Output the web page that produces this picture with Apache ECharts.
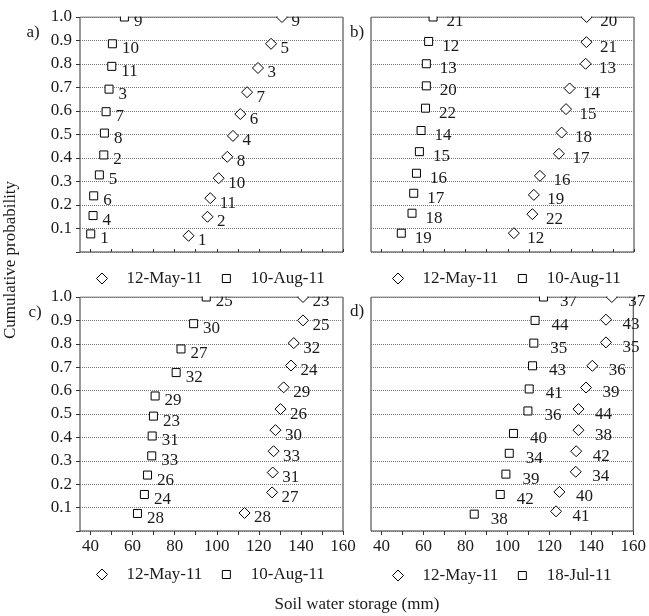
<!DOCTYPE html>
<html>
<head>
<meta charset="utf-8">
<script src="https://cdn.jsdelivr.net/npm/echarts@6/dist/echarts.min.js"></script>
<style>html,body{margin:0;padding:0;background:#fff}#c{width:649px;height:616px}</style>
</head>
<body>
<div id="c"></div>
<script>
// ---- data ----
const xTickValues = [40, 50, 60, 70, 80, 90, 100, 110, 120, 130, 140, 150, 160];
const xLabelValues = [40, 60, 80, 100, 120, 140, 160];

// panel a
const aMayId = [1, 2, 11, 10, 8, 4, 6, 7, 3, 5, 9];
const aMayX = [86.6, 95.6, 96.9, 100.9, 105.0, 107.7, 111.2, 114.4, 119.6, 125.8, 131.0];
const aMayP = [0.069, 0.15, 0.229, 0.314, 0.405, 0.494, 0.587, 0.68, 0.783, 0.886, 1.0];
const aAugId = [1, 4, 6, 5, 2, 8, 7, 3, 11, 10, 9];
const aAugX = [40.1, 41.2, 41.5, 44.2, 46.3, 46.6, 47.4, 48.8, 50.1, 50.4, 56.1];
const aAugP = [0.077, 0.155, 0.239, 0.328, 0.413, 0.506, 0.597, 0.693, 0.79, 0.886, 1.0];

// panel b
const bMayId = [12, 22, 19, 16, 17, 18, 15, 14, 13, 21, 20];
const bMayX = [102.9, 111.7, 112.4, 115.3, 124.3, 125.6, 127.7, 129.4, 137.0, 137.4, 137.5];
const bMayP = [0.08, 0.161, 0.243, 0.324, 0.418, 0.508, 0.608, 0.696, 0.801, 0.893, 1.0];
const bAugId = [19, 18, 17, 16, 15, 14, 22, 20, 13, 12, 21];
const bAugX = [49.4, 54.5, 55.3, 56.6, 58.0, 58.8, 60.9, 61.3, 61.3, 62.4, 64.5];
const bAugP = [0.08, 0.165, 0.25, 0.335, 0.427, 0.517, 0.612, 0.707, 0.801, 0.896, 1.0];

// panel c
const cMayId = [28, 27, 31, 33, 30, 26, 29, 24, 32, 25, 23];
const cMayX = [113.2, 126.3, 126.6, 127.0, 127.9, 130.3, 131.8, 135.3, 136.6, 141.0, 141.0];
const cMayP = [0.077, 0.165, 0.25, 0.341, 0.431, 0.521, 0.614, 0.707, 0.803, 0.9, 1.0];
const cAugId = [28, 24, 26, 33, 31, 23, 29, 32, 27, 30, 25];
const cAugX = [62.3, 65.6, 67.1, 69.1, 69.3, 69.9, 70.7, 80.7, 83.0, 89.0, 95.0];
const cAugP = [0.075, 0.156, 0.239, 0.321, 0.406, 0.491, 0.577, 0.677, 0.778, 0.886, 1.0];

// panel d
const dMayId = [41, 40, 34, 42, 38, 44, 39, 36, 35, 43, 37];
const dMayX = [123.2, 124.8, 132.6, 132.8, 133.9, 133.9, 137.5, 140.5, 147.0, 147.0, 149.8];
const dMayP = [0.084, 0.167, 0.253, 0.341, 0.431, 0.521, 0.613, 0.706, 0.806, 0.903, 1.0];
const dJulId = [38, 42, 39, 34, 40, 36, 41, 43, 35, 44, 37];
const dJulX = [84.2, 96.6, 99.3, 100.9, 102.9, 109.8, 110.4, 112.0, 112.6, 113.2, 117.2];
const dJulP = [0.072, 0.156, 0.243, 0.332, 0.417, 0.513, 0.607, 0.706, 0.803, 0.9, 1.0];

const seriesMay = '12-May-11';
const seriesAug = '10-Aug-11';
const seriesJul = '18-Jul-11';
const panelLetters = ['a)', 'b)', 'c)', 'd)'];
const xTitle = 'Soil water storage (mm)';
const yTitle = 'Cumulative probability';

// ---- styling / layout ----
const FONT = "'Liberation Serif', 'Times New Roman', serif";
const TXT = '#1a1a1a';
const FRAME = '#333';
const FS = 17;
const SQUARE_ICON = 'path://M0,0M11,11M1.5,1.5L9.5,1.5L9.5,9.5L1.5,9.5Z';

const grids = [
  {left: 80, top: 17, width: 263, height: 235},
  {left: 371, top: 17, width: 263, height: 235},
  {left: 80, top: 297, width: 263, height: 234},
  {left: 371, top: 297, width: 263, height: 234}
];
const labelDx = [9, 13, 9, 16];

const panels = [
  {may: [aMayX, aMayP, aMayId], other: [aAugX, aAugP, aAugId], otherName: seriesAug},
  {may: [bMayX, bMayP, bMayId], other: [bAugX, bAugP, bAugId], otherName: seriesAug},
  {may: [cMayX, cMayP, cMayId], other: [cAugX, cAugP, cAugId], otherName: seriesAug},
  {may: [dMayX, dMayP, dMayId], other: [dJulX, dJulP, dJulId], otherName: seriesJul}
];

function zip(arr) {
  return arr[0].map((v, i) => [v, arr[1][i], arr[2][i]]);
}

const option = {
  backgroundColor: '#fff',
  animation: false,
  grid: grids.map(g => Object.assign({show: true, borderColor: FRAME, borderWidth: 1, backgroundColor: 'transparent'}, g)),
  xAxis: grids.map((g, i) => ({
    type: 'value', gridIndex: i, min: 35, max: 160,
    axisLine: {show: false},
    splitLine: {show: false},
    axisTick: {show: true, inside: i < 2, length: i < 2 ? 3 : 4, customValues: xTickValues, lineStyle: {color: FRAME}},
    axisLabel: {show: i >= 2, customValues: xLabelValues, fontFamily: FONT, fontSize: FS, color: TXT, margin: 7}
  })),
  yAxis: grids.map((g, i) => ({
    type: 'value', gridIndex: i, min: 0, max: 1, interval: 0.1,
    axisLine: {show: false},
    splitLine: {show: true, lineStyle: {color: '#777', type: 'dotted', width: 1}},
    axisTick: {show: i % 2 === 0, length: 4, lineStyle: {color: FRAME}},
    axisLabel: {show: i % 2 === 0, fontFamily: FONT, fontSize: FS, color: TXT, margin: 8,
      formatter: v => (v === 0 ? '' : v.toFixed(1))}
  })),
  legend: [
    {left: 96, top: 270},
    {left: 392, top: 270},
    {left: 96, top: 566},
    {left: 392, top: 567}
  ].map((pos, i) => Object.assign({
    data: [{name: seriesMay, icon: 'diamond'}, {name: panels[i].otherName, icon: SQUARE_ICON}],
    selectedMode: false,
    padding: 0,
    itemWidth: 11, itemHeight: 11, itemGap: 18,
    itemStyle: {color: '#fff', borderColor: '#000', borderWidth: 1},
    textStyle: {fontFamily: FONT, fontSize: FS, color: TXT, padding: [0, 0, 0, 14]}
  }, pos)),
  series: [],
  graphic: []
};

panels.forEach((p, i) => {
  const common = (size) => ({
    type: 'scatter', xAxisIndex: i, yAxisIndex: i,
    symbolSize: size,
    itemStyle: {color: '#fff', borderColor: '#000', borderWidth: 1, opacity: 1},
    label: {show: true, position: 'right', distance: labelDx[i] - size / 2, offset: [0, 5],
      fontFamily: FONT, fontSize: FS, color: TXT,
      formatter: prm => String(prm.value[2])},
    emphasis: {disabled: true},
    z: 3
  });
  option.series.push(Object.assign(common(11), {name: seriesMay, symbol: 'diamond', data: zip(p.may)}));
  option.series.push(Object.assign(common(8), {name: p.otherName, symbol: 'rect', data: zip(p.other)}));
});

// masks hide the part of the markers above each panel's top frame (clipping)
grids.forEach(g => {
  option.graphic.push({type: 'rect', z: 100, silent: true,
    shape: {x: g.left, y: g.top - 10, width: g.width + 1, height: 9.5},
    style: {fill: '#fff'}});
});

const letterPos = [[33, 33], [357, 33], [35, 313], [357, 312]];
panelLetters.forEach((t, i) => {
  option.graphic.push({type: 'text', x: letterPos[i][0], y: letterPos[i][1], z: 101,
    style: {text: t, fontFamily: FONT, fontSize: FS, fill: TXT, align: 'center', verticalAlign: 'middle'}});
});
option.graphic.push({type: 'text', x: 357, y: 605, z: 101,
  style: {text: xTitle, fontFamily: FONT, fontSize: FS, fill: TXT, align: 'center', verticalAlign: 'middle'}});
option.graphic.push({type: 'text', x: 11, y: 260, rotation: Math.PI / 2, z: 101,
  style: {text: yTitle, fontFamily: FONT, fontSize: FS, fill: TXT, align: 'center', verticalAlign: 'middle'}});

const chart = echarts.init(document.getElementById('c'), null, {renderer: 'canvas'});
chart.setOption(option);
</script>
</body>
</html>
